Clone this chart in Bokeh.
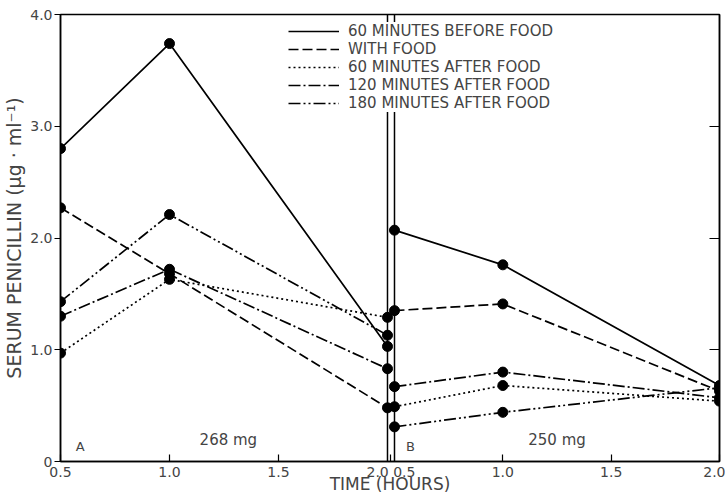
from bokeh.plotting import figure
from bokeh.models import Range1d, LinearAxis, FixedTicker, Span, Label, Legend, LegendItem
from bokeh.embed import file_html
from bokeh.resources import INLINE

# ---- data ----
times = [0.5, 1.0, 2.0]
series_labels = [
    "60 MINUTES BEFORE FOOD",
    "WITH FOOD",
    "60 MINUTES AFTER FOOD",
    "120 MINUTES AFTER FOOD",
    "180 MINUTES AFTER FOOD",
]
# Panel A (268 mg)
a_before = [2.80, 3.74, 1.03]
a_with = [2.27, 1.68, 0.48]
a_after60 = [0.97, 1.63, 1.29]
a_after120 = [1.30, 1.72, 0.83]
a_after180 = [1.43, 2.21, 1.13]
# Panel B (250 mg)
b_before = [2.07, 1.76, 0.68]
b_with = [1.35, 1.41, 0.63]
b_after60 = [0.49, 0.68, 0.54]
b_after120 = [0.67, 0.80, 0.57]
b_after180 = [0.31, 0.44, 0.66]

x_ticks = [0.5, 1.0, 1.5, 2.0]
y_ticks = [0, 1, 2, 3, 4]
y_tick_labels = ["0", "1.0", "2.0", "3.0", "4.0"]

panel_a_series = [a_before, a_with, a_after60, a_after120, a_after180]
panel_b_series = [b_before, b_with, b_after60, b_after120, b_after180]
dashes = ["solid", "10 4", "2 3", "12 3 2 3", "12 3 2 3 2 3"]

FONT = "DejaVu Sans"

xa = Range1d(0.5, 3.523)
xb = Range1d(-1.0415, 2.0)

p = figure(width=725, height=496, x_range=xa, y_range=Range1d(0, 4.0),
           output_backend="svg", toolbar_location=None,
           min_border_left=60, min_border_right=6, min_border_top=14, min_border_bottom=34)
p.extra_x_ranges = {"B": xb}
p.grid.visible = False
p.outline_line_color = "black"
p.outline_line_width = 1.5
p.background_fill_color = "white"
p.border_fill_color = "white"


def b_to_a(v):
    return xa.start + (v - xb.start) * (xa.end - xa.start) / (xb.end - xb.start)


# x axis: panel A ticks + panel B ticks mapped through the ranges
gap_tick = round((2.0 + b_to_a(0.5)) / 2, 6)
tick_pos = [x_ticks[0], x_ticks[1], x_ticks[2], gap_tick] + [round(b_to_a(v), 6) for v in x_ticks[1:3]] + [round(b_to_a(x_ticks[3]) - 1e-6, 6)]
tick_txt = ["0.5", "1.0", "1.5", "2.0 0.5", "1.0", "1.5", "2.0"]
xax = p.xaxis[0]
xax.ticker = FixedTicker(ticks=tick_pos)
xax.major_label_overrides = {t: s for t, s in zip(tick_pos, tick_txt)}
xax.major_tick_in = 7
xax.major_tick_out = 0
xax.minor_tick_line_color = None
xax.major_label_standoff = 2
xax.axis_label = "TIME (HOURS)"
xax.axis_label_standoff = -9
xax.axis_label_text_font = FONT
xax.axis_label_text_font_style = "normal"
xax.axis_label_text_font_size = "17px"
xax.major_label_text_font = FONT
xax.major_label_text_font_size = "14px"
xax.axis_line_width = 1.5
xax.major_tick_line_width = 1.2

yax = p.yaxis[0]
yax.ticker = FixedTicker(ticks=y_ticks)
yax.major_label_overrides = {t: s for t, s in zip(y_ticks, y_tick_labels)}
yax.major_tick_in = 0
yax.major_tick_out = 6
yax.minor_tick_line_color = None
yax.major_label_standoff = 2
yax.axis_label = "SERUM PENICILLIN (\u03bcg \u00b7 ml\u207b\u00b9)"
yax.axis_label_standoff = 2
yax.axis_label_text_font = FONT
yax.axis_label_text_font_style = "normal"
yax.axis_label_text_font_size = "19px"
yax.major_label_text_font = FONT
yax.major_label_text_font_size = "14px"
yax.axis_line_width = 1.5
yax.major_tick_line_width = 1.2

rax = LinearAxis(ticker=FixedTicker(ticks=y_ticks[1:4]), major_tick_in=10, major_tick_out=0,
                 minor_tick_line_color=None, major_label_text_font_size="1px",
                 major_label_text_color=None,
                 major_label_standoff=0, axis_line_width=1.5, major_tick_line_width=1.2)
p.add_layout(rax, "right")

# gap spines between the two panels
p.add_layout(Span(location=x_ticks[-1], dimension="height", line_color="black", line_width=1.5))
p.add_layout(Span(location=x_ticks[0], dimension="height", x_range_name="B",
                  line_color="black", line_width=1.5))

items = []
for ys, dash, lab in zip(panel_a_series, dashes, series_labels):
    r = p.line(times, ys, line_color="black", line_width=1.7, line_dash=dash)
    p.scatter(times, ys, size=10, color="black")
    items.append(LegendItem(label=lab, renderers=[r]))
for ys, dash in zip(panel_b_series, dashes):
    p.line(times, ys, line_color="black", line_width=1.7, line_dash=dash, x_range_name="B")
    p.scatter(times, ys, size=10, color="black", x_range_name="B")

# panel labels
p.add_layout(Label(x=0.59, y=0.13, text="A", text_font=FONT, text_font_size="13px",
                   text_align="center", text_baseline="middle"))
p.add_layout(Label(x=1.27, y=0.19, text="268 mg", text_font=FONT, text_font_size="15px",
                   text_align="center", text_baseline="middle"))
p.add_layout(Label(x=0.574, y=0.13, text="B", x_range_name="B", text_font=FONT,
                   text_font_size="13px", text_align="center", text_baseline="middle"))
p.add_layout(Label(x=1.25, y=0.19, text="250 mg", x_range_name="B", text_font=FONT,
                   text_font_size="15px", text_align="center", text_baseline="middle"))

legend = Legend(items=items, location=(228, 349), orientation="vertical",
                background_fill_color="white", background_fill_alpha=1.0,
                border_line_color=None, padding=4, margin=0, spacing=0,
                glyph_width=51, glyph_height=16, label_height=16, label_standoff=9,
                label_text_font=FONT, label_text_font_size="15px")
p.add_layout(legend)

open("out.html", "w").write(file_html(p, INLINE))
